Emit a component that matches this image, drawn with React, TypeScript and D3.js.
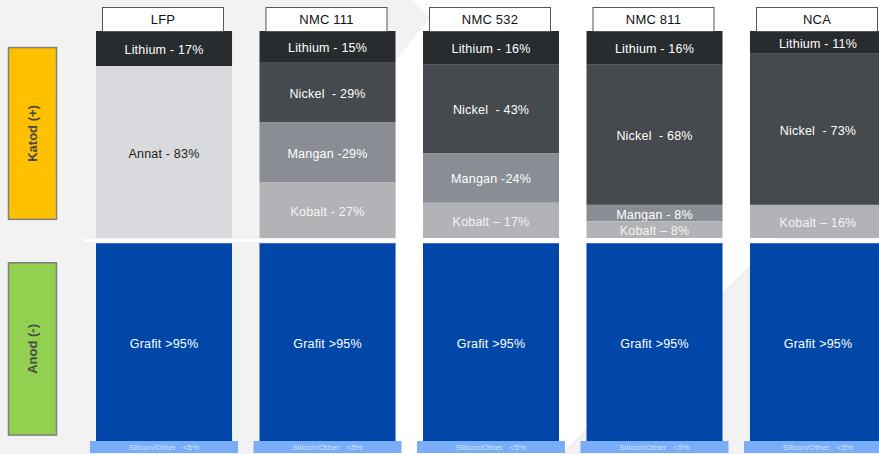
import React, { useEffect, useRef } from "react";
import * as d3 from "d3";

// battery chemistries (columns)
const chemistries = ["LFP", "NMC 111", "NMC 532", "NMC 811", "NCA"];

// cathode composition, % by weight
const lithium = [17, 15, 16, 16, 11];
const nickel = [0, 29, 43, 68, 73];
const mangan = [0, 29, 24, 8, 0];
const kobalt = [0, 27, 17, 8, 16];
const annat = [83, 0, 0, 0, 0];

const lithiumLabels = ["Lithium - 17%", "Lithium - 15%", "Lithium - 16%", "Lithium - 16%", "Lithium - 11%"];
const nickelLabels = ["", "Nickel  - 29%", "Nickel  - 43%", "Nickel  - 68%", "Nickel  - 73%"];
const manganLabels = ["", "Mangan -29%", "Mangan -24%", "Mangan - 8%", ""];
const kobaltLabels = ["", "Kobalt - 27%", "Kobalt \u2013 17%", "Kobalt \u2013 8%", "Kobalt \u2013 16%"];
const annatLabels = ["Annat - 83%", "", "", "", ""];

// anode composition
const grafitLabels = ["Grafit >95%", "Grafit >95%", "Grafit >95%", "Grafit >95%", "Grafit >95%"];
const siliconLabels = ["Silicon/Other   <5%", "Silicon/Other   <5%", "Silicon/Other   <5%", "Silicon/Other   <5%", "Silicon/Other   <5%"];

const sideLabels = ["Katod (+)", "Anod (-)"];

const App = () => {
  const svgRef = useRef<SVGSVGElement>(null);

  useEffect(() => {
    const width = 879;
    const height = 454;
    const font = "'Liberation Sans', Arial, sans-serif";

    const svg = d3.select(svgRef.current);
    svg.selectAll("*").remove();

    // background with a white diagonal decoration
    svg.append("rect").attr("width", width).attr("height", height).attr("fill", "#f2f2f2");
    svg
      .append("path")
      .attr("fill", "#ffffff")
      .attr("d", "M412,0 L879,0 L879,136 L561,454 L396,454 L396,60 L430,18 Z");

    const x = d3.scaleBand<string>().domain(chemistries).range([96, 886]).paddingInner(0.168).paddingOuter(0);
    const yCat = d3.scaleLinear([0, 100], [31, 238]);
    const yAno = d3.scaleLinear([0, 100], [243, 441]);

    const rows = chemistries.map((c, i) => ({
      name: c,
      lithium: lithium[i],
      nickel: nickel[i],
      mangan: mangan[i],
      kobalt: kobalt[i],
      annat: annat[i],
    }));
    const keys = ["lithium", "nickel", "mangan", "kobalt", "annat"];
    const colors: Record<string, string> = {
      lithium: "#292c2f",
      nickel: "#46494d",
      mangan: "#8a8e94",
      kobalt: "#b1b3b7",
      annat: "#d9dadd",
    };
    const labels: Record<string, string[]> = {
      lithium: lithiumLabels,
      nickel: nickelLabels,
      mangan: manganLabels,
      kobalt: kobaltLabels,
      annat: annatLabels,
    };
    const stack = d3.stack<any>().keys(keys)(rows);

    // cathode segments
    stack.forEach((layer) => {
      const key = layer.key;
      const g = svg.append("g");
      g.selectAll("rect")
        .data(layer)
        .join("rect")
        .attr("x", (d) => x(d.data.name)!)
        .attr("width", x.bandwidth())
        .attr("y", (d) => yCat(d[0]))
        .attr("height", (d) => yCat(d[1]) - yCat(d[0]))
        .attr("fill", colors[key]);
      g.selectAll("text")
        .data(layer.filter((d) => d[1] > d[0]))
        .join("text")
        .attr("x", (d) => x(d.data.name)! + x.bandwidth() / 2)
        .attr("y", (d) => (yCat(d[0]) + yCat(d[1])) / 2 + 1)
        .attr("dy", "0.36em")
        .attr("text-anchor", "middle")
        .attr("font-family", font)
        .attr("font-size", 12.5)
        .attr("letter-spacing", 0.2)
        .attr("fill", key === "annat" ? "#222222" : key === "kobalt" ? "#f4f4f4" : "#ffffff")
        .style("white-space", "pre")
        .text((d) => labels[key][chemistries.indexOf(d.data.name)]);
    });

    // white separator between cathode and anode
    svg
      .append("rect")
      .attr("x", 84)
      .attr("y", yCat(100) + 1)
      .attr("width", width - 84)
      .attr("height", 3)
      .attr("fill", "#ffffff");

    // anode: graphite
    const an = svg.append("g");
    an.selectAll("rect.grafit")
      .data(chemistries)
      .join("rect")
      .attr("class", "grafit")
      .attr("x", (d) => x(d)!)
      .attr("width", x.bandwidth())
      .attr("y", yAno(0))
      .attr("height", yAno(100) - yAno(0))
      .attr("fill", "#0047a9");
    an.selectAll("rect.edge")
      .data(chemistries)
      .join("rect")
      .attr("class", "edge")
      .attr("x", (d) => x(d)!)
      .attr("width", x.bandwidth())
      .attr("y", yAno(0))
      .attr("height", 1)
      .attr("fill", "#3d6fc0");
    an.selectAll("text.grafit")
      .data(chemistries)
      .join("text")
      .attr("class", "grafit")
      .attr("x", (d) => x(d)! + x.bandwidth() / 2)
      .attr("y", yAno(50) + 1)
      .attr("dy", "0.36em")
      .attr("text-anchor", "middle")
      .attr("font-family", font)
      .attr("font-size", 12.5)
      .attr("letter-spacing", 0.2)
      .attr("fill", "#ffffff")
      .text((d, i) => grafitLabels[i]);

    // silicon / other strip
    an.selectAll("rect.si")
      .data(chemistries)
      .join("rect")
      .attr("class", "si")
      .attr("x", (d) => x(d)! - 6)
      .attr("width", x.bandwidth() + 12)
      .attr("y", yAno(100))
      .attr("height", 12)
      .attr("fill", "#79adf8");
    an.selectAll("text.si")
      .data(chemistries)
      .join("text")
      .attr("class", "si")
      .attr("x", (d) => x(d)! + x.bandwidth() / 2)
      .attr("y", yAno(100) + 6)
      .attr("dy", "0.36em")
      .attr("text-anchor", "middle")
      .attr("font-family", font)
      .attr("font-size", 8)
      .attr("letter-spacing", 0.1)
      .attr("fill", "#d4e4fc")
      .style("white-space", "pre")
      .text((d, i) => siliconLabels[i]);

    // column headers
    const hd = svg.append("g");
    hd.selectAll("rect")
      .data(chemistries)
      .join("rect")
      .attr("x", (d) => x(d)! + 6.5)
      .attr("y", 7.5)
      .attr("width", x.bandwidth() - 15)
      .attr("height", 24)
      .attr("fill", "#ffffff")
      .attr("stroke", "#555555")
      .attr("stroke-width", 1);
    hd.selectAll("text")
      .data(chemistries)
      .join("text")
      .attr("x", (d) => x(d)! + 6.5 + (x.bandwidth() - 15) / 2)
      .attr("y", 19.5)
      .attr("dy", "0.36em")
      .attr("text-anchor", "middle")
      .attr("font-family", font)
      .attr("font-size", 13)
      .attr("letter-spacing", 0.2)
      .attr("fill", "#111111")
      .text((d) => d);

    // side labels
    const side = [
      { label: sideLabels[0], y0: yCat(8), y1: yCat(91), fill: "#ffc000" },
      { label: sideLabels[1], y0: yAno(10), y1: yAno(97), fill: "#92d050" },
    ];
    const sg = svg.append("g");
    sg.selectAll("rect")
      .data(side)
      .join("rect")
      .attr("x", 8.5)
      .attr("y", (d) => d.y0)
      .attr("width", 48)
      .attr("height", (d) => d.y1 - d.y0)
      .attr("fill", (d) => d.fill)
      .attr("stroke", "#7f7f7f")
      .attr("stroke-width", 1.5);
    sg.selectAll("text")
      .data(side)
      .join("text")
      .attr("transform", (d) => `translate(32.5,${(d.y0 + d.y1) / 2}) rotate(-90)`)
      .attr("dy", "0.36em")
      .attr("text-anchor", "middle")
      .attr("font-family", font)
      .attr("font-size", 13)
      .attr("font-weight", "bold")
      .attr("fill", "#4a4a4a")
      .style("white-space", "pre")
      .text((d) => d.label);
  }, []);

  return (
    <svg
      ref={svgRef}
      width={879}
      height={454}
      style={{ position: "absolute", left: 0, top: 0, display: "block" }}
    />
  );
};

export default App;
